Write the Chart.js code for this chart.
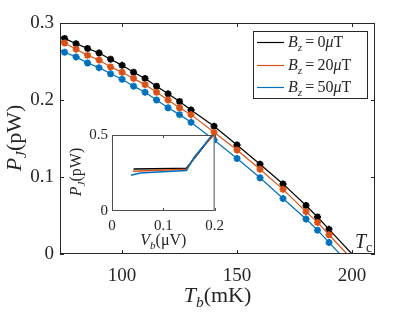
<!DOCTYPE html>
<html><head><meta charset="utf-8">
<script src="https://cdn.jsdelivr.net/npm/chart.js@4.4.1/dist/chart.umd.min.js"></script>
<style>
html,body{margin:0;padding:0;background:#fff;}
#wrap{position:relative;width:415px;height:312px;overflow:hidden;}
#main{position:absolute;left:0;top:0;}
#inset{position:absolute;left:60px;top:118px;}
</style></head><body>
<div id="wrap"><canvas id="main" width="415" height="312"></canvas><canvas id="inset" width="170" height="136"></canvas></div>
<script>
// ---------- main panel data (T_b in mK, P_J in pW) ----------
const temps = [73, 75, 80, 85, 90, 95, 100, 105, 110, 115, 120, 125, 130, 140, 150, 160, 170, 180, 185, 190];
const pBz0  = [0.282, 0.280, 0.273, 0.267, 0.261, 0.253, 0.245, 0.236, 0.228, 0.218, 0.208, 0.198, 0.187, 0.166, 0.1415, 0.1165, 0.091, 0.063, 0.048, 0.032];
const pBz20 = [0.277, 0.274, 0.266, 0.258, 0.252, 0.243, 0.236, 0.228, 0.220, 0.210, 0.200, 0.190, 0.181, 0.158, 0.135, 0.110, 0.084, 0.055, 0.041, 0.025];
const pBz50 = [0.265, 0.262, 0.256, 0.248, 0.242, 0.234, 0.227, 0.218, 0.210, 0.200, 0.190, 0.181, 0.171, 0.148, 0.124, 0.099, 0.072, 0.0455, 0.031, 0.015];
const tcBz0 = 200.0, tcBz20 = 197.8, tcBz50 = 194.7;   // where each curve reaches P_J = 0
const xTicks = [100, 150, 200];
const yTicks = [0, 0.1, 0.2, 0.3];
const seriesLabels = ['B_z=0\u03bcT', 'B_z=20\u03bcT', 'B_z=50\u03bcT'];
const seriesField = ['0', '20', '50'];

// ---------- inset data (V_b in uV, P_J in pW) ----------
const vBz0  = [0.042, 0.080, 0.120, 0.145, 0.160, 0.180, 0.198];
const iBz0  = [0.276, 0.278, 0.279, 0.281, 0.345, 0.430, 0.505];
const vBz20 = [0.041, 0.080, 0.120, 0.145, 0.160, 0.180, 0.199];
const iBz20 = [0.262, 0.267, 0.271, 0.274, 0.350, 0.435, 0.500];
const vBz50 = [0.037, 0.055, 0.090, 0.120, 0.145, 0.161, 0.181, 0.197];
const iBz50 = [0.235, 0.250, 0.257, 0.262, 0.267, 0.357, 0.439, 0.510];
const insetXTicks = [0, 0.1, 0.2];
const insetYTicks = [0, 0.5];

const colors = ['#000000', '#D95319', '#0072BD'];
const FONT = '"Liberation Serif", "DejaVu Serif", serif';
const AX = '#262626';

function fontFor(p, size){ const sz = p.s ? size*0.7 : size; return (p.i ? 'italic ' : '') + sz + 'px ' + FONT; }
function measureMath(ctx, parts, size){ let w = 0; for (const p of parts){ if (p.sp !== undefined){ w += p.sp*size; continue; } ctx.font = fontFor(p, size); w += ctx.measureText(p.t).width; } return w; }
function drawMath(ctx, parts, x, base, size, align, rot){
  ctx.save(); ctx.fillStyle = AX; ctx.textBaseline = 'alphabetic'; ctx.textAlign = 'left';
  if (rot){ ctx.translate(x, base); ctx.rotate(-Math.PI/2); x = 0; base = 0; }
  const w = measureMath(ctx, parts, size);
  let cx = align === 'left' ? x : x - w/2;
  for (const p of parts){
    if (p.sp !== undefined){ cx += p.sp*size; continue; }
    ctx.font = fontFor(p, size);
    ctx.fillText(p.t, cx, base + (p.s ? size*0.22 : 0));
    cx += ctx.measureText(p.t).width;
  }
  ctx.restore();
}
function labelParts(field){ return [{t:'B',i:1},{t:'z',i:1,s:1},{sp:0.2},{t:'='},{sp:0.2},{t:field},{t:'\u03bc',i:1},{t:'T'}]; }

function series(ts, ps, tc){ return ts.map((t,i)=>({x:t, y:ps[i]})).concat([{x:tc, y:0}]); }
function radii(n){ return Array.from({length:n+2}, (_,i)=> (i===0 || i===n+1) ? 0 : 3.5); }

const mainData = [series(temps, pBz0, tcBz0), series(temps, pBz20, tcBz20), series(temps, pBz50, tcBz50)];

const mainPlugin = {
  id: 'mainDeco',
  afterDraw(chart){
    const ctx = chart.ctx, a = chart.chartArea, xs = chart.scales.x, ys = chart.scales.y;
    ctx.save();
    ctx.strokeStyle = AX; ctx.lineWidth = 1;
    ctx.strokeRect(a.left+0.5, a.top+0.5, a.right-a.left-1, a.bottom-a.top-1);
    ctx.beginPath();
    for (const v of xTicks){ const px = Math.round(xs.getPixelForValue(v))+0.5; ctx.moveTo(px, a.bottom); ctx.lineTo(px, a.bottom-4); ctx.moveTo(px, a.top); ctx.lineTo(px, a.top+4); }
    for (const v of yTicks){ const py = Math.round(ys.getPixelForValue(v))+0.5; ctx.moveTo(a.left, py); ctx.lineTo(a.left+4, py); ctx.moveTo(a.right, py); ctx.lineTo(a.right-4, py); }
    ctx.stroke();
    // axis titles
    drawMath(ctx, [{t:'T',i:1},{t:'b',i:1,s:1},{t:'(mK)'}], (a.left+a.right)/2, 302, 22, 'center');
    drawMath(ctx, [{t:'P',i:1},{t:'J',i:1,s:1},{t:'(pW)'}], 21, 138, 22, 'center', true);
    // T_c label
    drawMath(ctx, [{t:'T',i:1},{t:'c',s:1}], 355, 248, 20, 'left');
    // legend
    const lx0 = 253, ly0 = 31, lx1 = 367, ly1 = 98;
    ctx.fillStyle = '#fff'; ctx.fillRect(lx0, ly0, lx1-lx0, ly1-ly0);
    ctx.strokeStyle = AX; ctx.lineWidth = 1; ctx.strokeRect(lx0+0.5, ly0+0.5, lx1-lx0, ly1-ly0);
    const rowsY = [42.5, 65.5, 87.5];
    for (let k = 0; k < 3; k++){
      ctx.strokeStyle = colors[k]; ctx.lineWidth = 1.2;
      ctx.beginPath(); ctx.moveTo(257, rowsY[k]); ctx.lineTo(284, rowsY[k]); ctx.stroke();
      drawMath(ctx, labelParts(seriesField[k]), 288, rowsY[k]+4.5, 16, 'left');
    }
    ctx.restore();
  }
};

new Chart(document.getElementById('main'), {
  type: 'scatter',
  data: { datasets: mainData.map((d,k)=>({
    label: seriesLabels[k], data: d, showLine: true, borderColor: colors[k], backgroundColor: colors[k],
    borderWidth: 1.2, pointStyle: 'star', pointRadius: radii(temps.length-1), pointBorderWidth: 2,
    pointBackgroundColor: colors[k], pointBorderColor: colors[k], order: 2-k, tension: 0
  })) },
  options: {
    responsive: false, animation: false, devicePixelRatio: 1,
    layout: { padding: { left: 0, right: 40, top: 23, bottom: 0 } },
    plugins: { legend: { display: false }, tooltip: { enabled: false } },
    scales: {
      x: { type: 'linear', min: 73, max: 210, grid: { display: false, drawTicks: false }, border: { display: false },
           afterBuildTicks: s => { s.ticks = xTicks.map(v => ({ value: v })); },
           afterFit: s => { s.height = 58; },
           ticks: { font: { family: FONT, size: 19 }, color: AX, padding: 11, maxRotation: 0, autoSkip: false, callback: v => String(v) } },
      y: { type: 'linear', min: 0, max: 0.3, grid: { display: false, drawTicks: false }, border: { display: false },
           afterBuildTicks: s => { s.ticks = yTicks.map(v => ({ value: v })); },
           afterFit: s => { s.width = 60; },
           ticks: { font: { family: FONT, size: 19 }, color: AX, padding: 6, autoSkip: false, callback: v => String(v) } }
    }
  },
  plugins: [mainPlugin]
});

// ---------- inset ----------
const INS = '#4d4d4d';
const insetPlugin = {
  id: 'insetDeco',
  beforeDraw(chart){ const a = chart.chartArea, ctx = chart.ctx; ctx.save(); ctx.fillStyle = '#fff'; ctx.fillRect(a.left, a.top, a.right-a.left, a.bottom-a.top); ctx.restore(); },
  afterDraw(chart){
    const ctx = chart.ctx, a = chart.chartArea, xs = chart.scales.x;
    ctx.save(); ctx.strokeStyle = INS; ctx.lineWidth = 1;
    ctx.strokeRect(a.left+0.5, a.top+0.5, a.right-a.left-1, a.bottom-a.top-1);
    ctx.beginPath();
    for (const v of insetXTicks){ const px = Math.round(xs.getPixelForValue(v))+0.5; ctx.moveTo(px, a.bottom); ctx.lineTo(px, a.bottom-3); ctx.moveTo(px, a.top); ctx.lineTo(px, a.top+3); }
    ctx.stroke();
    drawMath(ctx, [{t:'V',i:1},{t:'b',i:1,s:1},{t:'(\u03bcV)'}], (a.left+a.right)/2, 127, 16, 'center');
    drawMath(ctx, [{t:'P',i:1},{t:'J',i:1,s:1},{t:'(pW)'}], 21, 54, 16, 'center', true);
    ctx.restore();
  }
};
const insetSets = [[vBz0, iBz0], [vBz20, iBz20], [vBz50, iBz50]];
new Chart(document.getElementById('inset'), {
  type: 'scatter',
  data: { datasets: insetSets.map((s,k)=>({ data: s[0].map((v,i)=>({x:v, y:s[1][i]})), showLine: true,
    borderColor: colors[k], borderWidth: 1.5, pointRadius: 0, order: 2-k, tension: 0 })) },
  options: {
    responsive: false, animation: false, devicePixelRatio: 1,
    layout: { padding: { left: 0, right: 15, top: 17, bottom: 0 } },
    plugins: { legend: { display: false }, tooltip: { enabled: false } },
    scales: {
      x: { type: 'linear', min: 0, max: 0.2, grid: { display: false, drawTicks: false }, border: { display: false },
           afterBuildTicks: s => { s.ticks = insetXTicks.map(v => ({ value: v })); },
           afterFit: s => { s.height = 43; },
           ticks: { font: { family: FONT, size: 15 }, color: AX, padding: 6, maxRotation: 0, autoSkip: false, callback: v => String(v) } },
      y: { type: 'linear', min: 0, max: 0.5, grid: { display: false, drawTicks: false }, border: { display: false },
           afterBuildTicks: s => { s.ticks = insetYTicks.map(v => ({ value: v })); },
           afterFit: s => { s.width = 52; },
           ticks: { font: { family: FONT, size: 15 }, color: AX, padding: 4, autoSkip: false, callback: v => String(v) } }
    }
  },
  plugins: [insetPlugin]
});
</script>
</body></html>
